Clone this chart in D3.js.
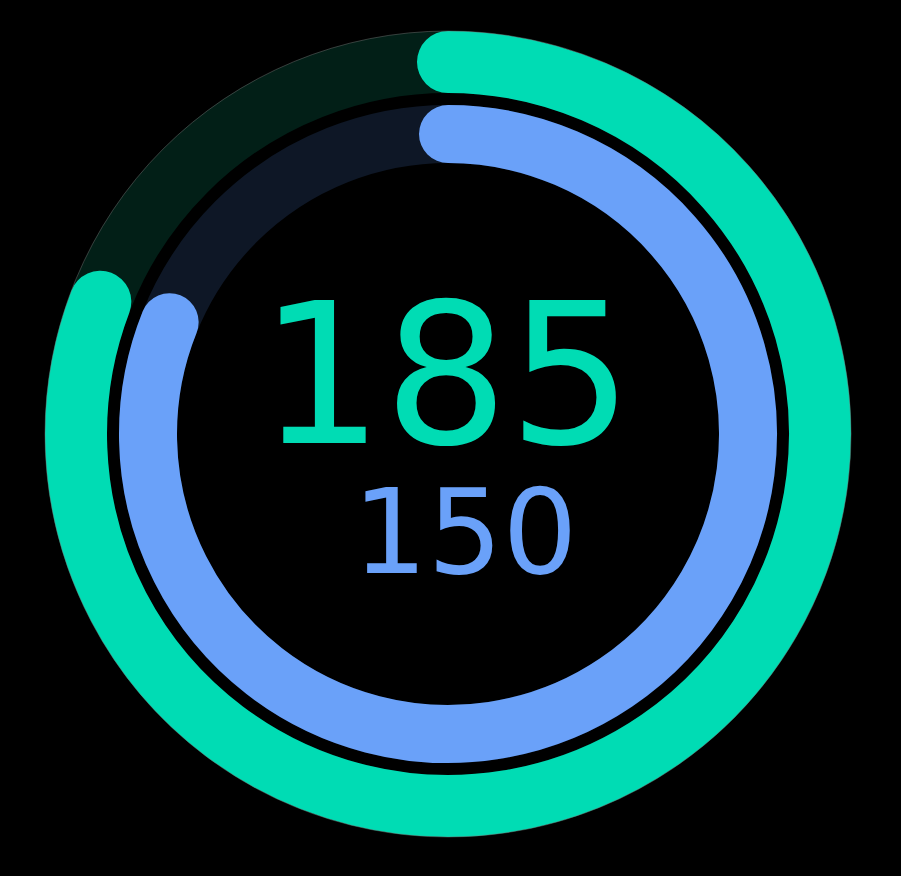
<!DOCTYPE html>
<html>
<head>
<meta charset="utf-8">
<script src="https://cdn.jsdelivr.net/npm/d3@7"></script>
<style>
  html, body { margin: 0; padding: 0; background: #000; }
  #container { width: 901px; height: 876px; }
</style>
</head>
<body>
<div id="container"></div>
<script>
// ring data, outer ring first
const ringNames = ['outer', 'inner'];
const ringValues = [185, 150];
const ringGoals = [229, 185];
const ringLabels = ['185', '150'];

const width = 901;
const height = 876;
const cx = 448;
const cy = 434;

const rings = [
  { r: 372, thick: 62, color: '#00dcb4', track: '#021f17' },
  { r: 300, thick: 58, color: '#6aa1f9', track: '#0e1726' },
];

const svg = d3
  .select('#container')
  .append('svg')
  .attr('width', width)
  .attr('height', height)
  .style('background', '#000');

const g = svg.append('g')
  .attr('transform', `translate(${cx},${cy})`);

ringNames.forEach((name, i) => {
  const ring = rings[i];
  const angle = d3.scaleLinear()
    .domain([0, ringGoals[i]])
    .range([0, 2 * Math.PI]);

  // background track
  g.append('circle')
    .attr('class', `track ${name}`)
    .attr('r', ring.r)
    .attr('fill', 'none')
    .attr('stroke', ring.track)
    .attr('stroke-width', ring.thick);

  // progress arc, starting at 12 o'clock, clockwise
  const p = d3.path();
  const a0 = -Math.PI / 2;
  const a1 = angle(ringValues[i]) - Math.PI / 2;
  p.moveTo(ring.r * Math.cos(a0), ring.r * Math.sin(a0));
  p.arc(0, 0, ring.r, a0, a1);

  g.append('path')
    .attr('class', `progress ${name}`)
    .attr('d', p.toString())
    .attr('fill', 'none')
    .attr('stroke', ring.color)
    .attr('stroke-width', ring.thick)
    .attr('stroke-linecap', 'round');
});

// faint rim round the outer ring
g.append('circle')
  .attr('r', rings[0].r + rings[0].thick / 2)
  .attr('fill', 'none')
  .attr('stroke', '#777')
  .attr('stroke-opacity', 0.45)
  .attr('stroke-width', 1);

// center numbers
g.append('text')
  .attr('x', -2)
  .attr('y', 9)
  .attr('text-anchor', 'middle')
  .attr('font-family', 'DejaVu Sans')
  .attr('font-size', 196)
  .attr('fill', rings[0].color)
  .text(ringLabels[0]);

g.append('text')
  .attr('x', 17)
  .attr('y', 139)
  .attr('text-anchor', 'middle')
  .attr('font-family', 'DejaVu Sans')
  .attr('font-size', 118)
  .attr('fill', rings[1].color)
  .text(ringLabels[1]);
</script>
</body>
</html>
